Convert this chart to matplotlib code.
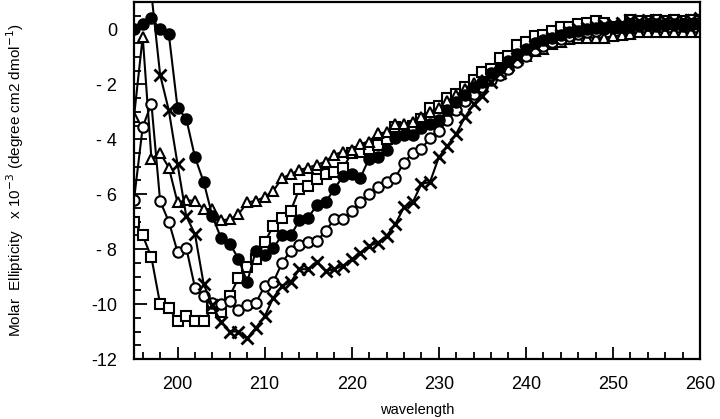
import numpy as np
import matplotlib
matplotlib.use("Agg")
import matplotlib.pyplot as plt
from matplotlib.ticker import MultipleLocator, FixedLocator, FixedFormatter

plt.rcParams['font.family'] = ['Liberation Sans', 'DejaVu Sans']

wavelength = list(range(195, 261))
wavelength_x = list(range(197, 261))

square = [-7.0, -7.5, -8.3, -10.0, -10.15, -10.6, -10.45, -10.6, -10.6, -10.15,
          -10.3, -9.7, -9.05, -8.65, -8.35, -7.75, -7.15, -6.85, -6.6, -5.8,
          -5.7, -5.45, -5.25, -5.2, -5.05, -4.5, -4.45, -4.35, -4.2, -4.0,
          -3.55, -3.6, -3.5, -3.25, -2.85, -2.8, -2.5, -2.35, -2.1, -1.85,
          -1.55, -1.45, -1.05, -0.95, -0.55, -0.45, -0.25, -0.2, -0.05, 0.08,
          0.1, 0.2, 0.25, 0.3, 0.25, 0.1, 0.05, 0.35, 0.3, 0.3,
          0.35, 0.3, 0.35, 0.3, 0.35, 0.35]

filled_circle = [0.0, 0.2, 0.43, 0.0, -0.18, -2.85, -3.25, -4.65, -5.55, -6.8,
                 -7.6, -7.8, -8.35, -9.2, -8.05, -8.2, -7.95, -7.5, -7.5, -6.95,
                 -6.85, -6.4, -6.3, -5.8, -5.35, -5.25, -5.4, -4.7, -4.65, -4.4,
                 -3.95, -3.85, -3.85, -3.6, -3.45, -3.3, -2.95, -2.65, -2.4, -2.1,
                 -1.9, -1.6, -1.4, -1.15, -0.9, -0.7, -0.5, -0.4, -0.3, -0.2,
                 -0.1, -0.05, 0.0, 0.05, 0.05, 0.1, 0.1, 0.12, 0.12, 0.15,
                 0.12, 0.15, 0.15, 0.12, 0.15, 0.15]

open_circle = [-6.2, -3.55, -2.7, -6.25, -7.0, -8.1, -7.95, -9.4, -9.7, -9.95,
               -10.0, -9.9, -10.2, -10.05, -9.95, -9.35, -9.2, -8.5, -8.05, -7.85,
               -7.75, -7.7, -7.35, -6.9, -6.9, -6.6, -6.3, -6.0, -5.75, -5.55,
               -5.4, -4.85, -4.5, -4.35, -3.95, -3.7, -3.3, -2.95, -2.6, -2.35,
               -2.1, -1.85, -1.65, -1.45, -1.2, -0.95, -0.75, -0.6, -0.45, -0.35,
               -0.25, -0.15, -0.1, -0.05, 0.0, 0.05, 0.1, 0.1, 0.15, 0.15,
               0.2, 0.15, 0.2, 0.2, 0.2, 0.2]

triangle = [-3.18, -0.26, -4.7, -4.5, -5.03, -6.3, -6.22, -6.24, -6.54, -6.54,
            -6.95, -6.91, -6.73, -6.3, -6.24, -6.1, -5.88, -5.41, -5.27, -5.12,
            -5.03, -4.93, -4.81, -4.56, -4.45, -4.4, -4.17, -4.08, -3.78, -3.75,
            -3.44, -3.44, -3.38, -3.2, -3.0, -2.85, -2.6, -2.4, -2.15, -1.95,
            -1.85, -1.65, -1.45, -1.3, -1.13, -0.95, -0.77, -0.7, -0.52, -0.45,
            -0.34, -0.3, -0.3, -0.3, -0.3, -0.25, -0.2, -0.16, -0.1, -0.1,
            -0.1, -0.1, -0.1, -0.1, -0.1, -0.1]

cross = [1.3, -1.65, -2.95, -4.9, -6.8, -7.45, -9.27, -10.05, -10.65, -11.0,
         -11.0, -11.25, -10.86, -10.45, -9.77, -9.33, -9.2, -8.73, -8.73, -8.45,
         -8.8, -8.73, -8.6, -8.37, -8.13, -7.88, -7.76, -7.52, -7.09, -6.48,
         -6.3, -5.63, -5.55, -4.66, -4.23, -3.8, -3.2, -2.71, -2.41, -1.9,
         -1.6, -1.3, -1.05, -0.8, -0.6, -0.45, -0.3, -0.2, -0.1, 0.0,
         0.05, 0.1, 0.15, 0.2, 0.25, 0.35, 0.3, 0.35, 0.3, 0.35,
         0.3, 0.35, 0.35, 0.4]

xticks = [200, 210, 220, 230, 240, 250, 260]
yticks = [0, -2, -4, -6, -8, -10, -12]
ytick_labels = ["0", "- 2", "- 4", "- 6", "- 8", "-10", "-12"]

fig = plt.figure(figsize=(7.2, 4.19), dpi=100)
ax = fig.add_axes([134/720, 1 - 359/419, (700-134)/720, (359-2)/419])

lw = 1.5
ms = 7.5
mew = 1.5
ax.plot(wavelength, square, '-', color='black', lw=lw, marker='s', ms=ms,
        mfc='white', mec='black', mew=mew)
ax.plot(wavelength, triangle, '-', color='black', lw=lw, marker='^', ms=ms,
        mfc='white', mec='black', mew=mew)
ax.plot(wavelength, open_circle, '-', color='black', lw=lw, marker='o', ms=ms,
        mfc='white', mec='black', mew=mew)
ax.plot(wavelength, filled_circle, '-', color='black', lw=lw, marker='o', ms=ms,
        mfc='black', mec='black', mew=mew)
ax.plot(wavelength_x, cross, '-', color='black', lw=lw, marker='x', ms=ms+1.5,
        mec='black', mew=2.0)

ax.set_xlim(195, 260)
ax.set_ylim(-12, 1.0)
ax.xaxis.set_major_locator(FixedLocator(xticks))
ax.xaxis.set_minor_locator(MultipleLocator(2))
ax.yaxis.set_major_locator(FixedLocator(yticks))
ax.yaxis.set_major_formatter(FixedFormatter(ytick_labels))
ax.yaxis.set_minor_locator(MultipleLocator(0.5))

ax.tick_params(which='both', direction='in', top=False, right=False, width=1.3)
ax.tick_params(which='major', length=9, labelsize=13, pad=12)
ax.tick_params(which='minor', length=5)
for s in ax.spines.values():
    s.set_linewidth(1.6)

ax.set_xlabel("wavelength", fontsize=10.5)
ax.xaxis.set_label_coords(0.5, -0.122)
ax.set_ylabel(r"Molar  Ellipticity   x 10$^{-3}$ (degree cm2 dmol$^{-1}$)", fontsize=11)
ax.yaxis.set_label_coords(-0.19, 0.5)

fig.savefig("out.png", dpi=100)
